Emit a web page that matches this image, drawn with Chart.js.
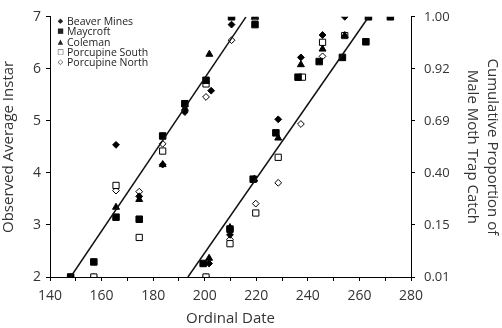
<!DOCTYPE html>
<html>
<head>
<meta charset="utf-8">
<script src="https://cdn.jsdelivr.net/npm/chart.js@4.4.1/dist/chart.umd.min.js"></script>
<style>
  html, body { margin: 0; padding: 0; background: #fff; }
  #wrap { position: relative; width: 502px; height: 328px; }
  #legend { position: absolute; left: 56px; top: 16px; font-family: "Open Sans", sans-serif; font-size: 10.5px; color: #222; line-height: 10.3px; }
  #legend div { height: 10.3px; line-height: 10.3px; white-space: nowrap; }
  #legend .mk { display: inline-block; width: 9px; height: 10.3px; line-height: 10.3px; vertical-align: top; font-family: "DejaVu Sans"; font-size: 7px; text-align: center; margin-right: 2px; }
</style>
</head>
<body>
<div id="wrap">
  <canvas id="grafico" width="502" height="328"></canvas>
  <div id="legend"></div>
</div>
<script>
// sitios
const sitios = ['Beaver Mines', 'Maycroft', 'Coleman', 'Porcupine South', 'Porcupine North']

// datas (dia ordinal) e instar de cada sitio
const beaver_x = [148, 165.6, 174.6, 183.7, 192.3, 202.5, 210.4, 201.7, 209.8, 228.5, 237.3, 245.7, 254.3]
const beaver_y = [2, 4.54, 3.55, 4.16, 5.17, 5.58, 6.85, 2.26, 2.81, 5.03, 6.22, 6.65, 7.0]

const maycroft_x = [148, 157, 165.6, 174.6, 183.7, 192.3, 200.5, 210.4, 219.5, 199.4, 209.8, 218.8, 227.6, 236.2, 244.4, 253.4, 262.5, 263.5, 272]
const maycroft_y = [2, 2.29, 3.15, 3.11, 4.71, 5.33, 5.78, 7.0, 6.85, 2.26, 2.92, 3.88, 4.77, 5.84, 6.14, 6.22, 6.52, 7.0, 7.0]

const coleman_x = [165.6, 174.6, 183.7, 192.3, 201.8, 219.5, 201.7, 209.8, 219.2, 228.5, 237.3, 245.7, 254.3]
const coleman_y = [3.34, 3.49, 4.16, 5.24, 6.28, 7.0, 2.36, 2.95, 3.88, 4.67, 6.08, 6.38, 6.64]

const psul_x = [157, 165.6, 174.6, 183.7, 200.5, 219.5, 200.5, 209.8, 219.8, 228.5, 237.9, 245.7, 254.3]
const psul_y = [2, 3.76, 2.76, 4.42, 5.71, 7.0, 2.0, 2.64, 3.23, 4.30, 5.84, 6.51, 6.64]

const pnorte_x = [157, 165.6, 174.6, 183.7, 200.5, 210.4, 200.5, 209.8, 219.8, 228.5, 237.3, 245.7]
const pnorte_y = [2, 3.66, 3.64, 4.56, 5.46, 6.55, 2.0, 2.72, 3.41, 3.81, 4.94, 6.24]

// retas de ajuste (extremos)
const reta1_x = [148, 216]
const reta1_y = [2, 7]
const reta2_x = [193.5, 263.6]
const reta2_y = [2, 7]

// rotulos do eixo da direita
const prop_ticks = ['0.01', '0.15', '0.40', '0.69', '0.92', '1.00']

function pontos(xs, ys) {
    return xs.map((x, i) => ({ x: x, y: ys[i] }))
}

const estilos = [
    { pointStyle: 'rectRot', radius: 3.4, fill: '#000', mk: '◆' },
    { pointStyle: 'rect', radius: 4.6, fill: '#000', mk: '■' },
    { pointStyle: 'triangle', radius: 4, fill: '#000', mk: '▲' },
    { pointStyle: 'rect', radius: 4.4, fill: '#fff', mk: '□' },
    { pointStyle: 'rectRot', radius: 3.4, fill: '#fff', mk: '◇' }
]
const todos = [
    pontos(beaver_x, beaver_y),
    pontos(maycroft_x, maycroft_y),
    pontos(coleman_x, coleman_y),
    pontos(psul_x, psul_y),
    pontos(pnorte_x, pnorte_y)
]

const datasets = sitios.map((nome, i) => ({
    type: 'scatter',
    label: nome,
    data: todos[i],
    pointStyle: estilos[i].pointStyle,
    pointRadius: estilos[i].radius,
    pointBackgroundColor: estilos[i].fill,
    pointBorderColor: '#000',
    pointBorderWidth: 1,
    showLine: false,
    order: 1
}))

;[pontos(reta1_x, reta1_y), pontos(reta2_x, reta2_y)].forEach(r => {
    datasets.push({
        type: 'line',
        label: '',
        data: r,
        borderColor: '#111',
        borderWidth: 1.5,
        pointRadius: 0,
        fill: false,
        order: 0
    })
})

// legenda em html
const leg = document.getElementById('legend')
sitios.forEach((nome, i) => {
    const row = document.createElement('div')
    row.innerHTML = '<span class="mk">' + estilos[i].mk + '</span>' + nome
    leg.appendChild(row)
})

const fundo = {
    id: 'fundo',
    beforeDraw(chart) {
        const c = chart.ctx
        c.save()
        c.fillStyle = '#fff'
        c.fillRect(0, 0, chart.width, chart.height)
        c.restore()
    }
}

const fonte = 'Open Sans'
const cor = '#333'

new Chart(document.getElementById('grafico').getContext('2d'), {
    data: { datasets: datasets },
    plugins: [fundo],
    options: {
        responsive: false,
        animation: false,
        layout: { padding: { top: 15, left: 0, right: 0, bottom: 0 } },
        plugins: {
            legend: { display: false },
            tooltip: { enabled: false }
        },
        scales: {
            x: {
                type: 'linear',
                min: 140,
                max: 280,
                afterFit: s => { s.height = 51 },
                border: { color: '#000', width: 1 },
                grid: { drawOnChartArea: false, color: '#000', tickLength: 4 },
                ticks: {
                    stepSize: 10,
                    autoSkip: false,
                    maxRotation: 0,
                    padding: 7,
                    color: cor,
                    font: { family: fonte, size: 14 },
                    callback: v => (v % 20 === 0 ? v : '')
                },
                title: { display: true, text: 'Ordinal Date', color: cor, font: { family: fonte, size: 15 }, padding: { top: 0, bottom: 0 } }
            },
            y: {
                type: 'linear',
                position: 'left',
                min: 2,
                max: 7,
                afterFit: s => { s.width = 50 },
                border: { color: '#000', width: 1 },
                grid: { drawOnChartArea: false, color: '#000', tickLength: 4 },
                ticks: { stepSize: 1, padding: 5, color: cor, font: { family: fonte, size: 14 } },
                title: { display: true, text: 'Observed Average Instar', color: cor, font: { family: fonte, size: 15 }, padding: { top: 0, bottom: 0 } }
            },
            y2: {
                type: 'linear',
                position: 'right',
                min: 2,
                max: 7,
                afterFit: s => { s.width = 91 },
                border: { color: '#000', width: 1 },
                grid: { drawOnChartArea: false, color: '#000', tickLength: 4 },
                ticks: {
                    stepSize: 1,
                    padding: 9,
                    color: cor,
                    font: { family: fonte, size: 13 },
                    callback: v => prop_ticks[v - 2]
                },
                title: {
                    display: true,
                    text: ['Cumulative Proportion of', 'Male Moth Trap Catch'],
                    color: cor,
                    font: { family: fonte, size: 15, lineHeight: 1.3 },
                    padding: { top: 0, bottom: 0 }
                }
            }
        }
    }
})
</script>
</body>
</html>
